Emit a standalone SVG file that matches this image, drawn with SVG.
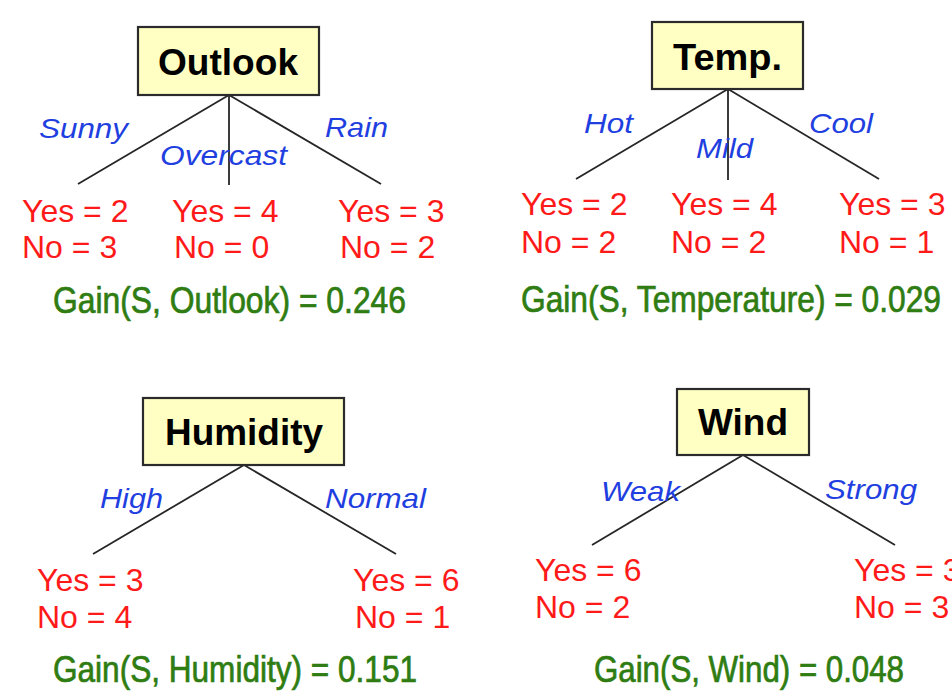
<svg xmlns="http://www.w3.org/2000/svg" width="952" height="698" viewBox="0 0 952 698">
<style>
.box{fill:#ffffc4;stroke:#2b2b2b;stroke-width:2.2}
.title{font-family:"Liberation Sans",Arial,sans-serif;font-weight:bold;font-size:36px;fill:#000}
.lbl{font-family:"Liberation Sans",Arial,sans-serif;font-style:italic;font-size:28px;fill:#1f3fe0}
.cnt{font-family:"Liberation Sans",Arial,sans-serif;font-size:32px;fill:#ff1a1a}
.gain{font-family:"Liberation Sans",Arial,sans-serif;font-size:36px;fill:#2f7d12;stroke:#2f7d12;stroke-width:0.7}
.edge{stroke:#262626;stroke-width:1.8;fill:none}
</style>
<rect width="952" height="698" fill="#fff"/>
<g id="connectors">
<line class="edge" x1="229" y1="95" x2="78" y2="184"/>
<line class="edge" x1="229" y1="95" x2="229" y2="185"/>
<line class="edge" x1="229" y1="95" x2="381" y2="184"/>
<line class="edge" x1="728" y1="89" x2="576" y2="179"/>
<line class="edge" x1="728" y1="89" x2="728" y2="180"/>
<line class="edge" x1="728" y1="89" x2="879" y2="179"/>
<line class="edge" x1="244" y1="465" x2="93" y2="554"/>
<line class="edge" x1="244" y1="465" x2="396" y2="554"/>
<line class="edge" x1="743" y1="455" x2="592" y2="545"/>
<line class="edge" x1="743" y1="455" x2="895" y2="545"/>
</g>
<g id="outlook">
<rect class="box" x="138" y="27" width="181" height="68"/>
<text class="title" x="158" y="75" textLength="140" lengthAdjust="spacingAndGlyphs">Outlook</text>
<text class="lbl" x="39" y="138" textLength="89" lengthAdjust="spacingAndGlyphs">Sunny</text>
<text class="lbl" x="160" y="165" textLength="127" lengthAdjust="spacingAndGlyphs">Overcast</text>
<text class="lbl" x="325" y="137" textLength="63" lengthAdjust="spacingAndGlyphs">Rain</text>
<text class="cnt" x="22" y="222">Yes = 2</text>
<text class="cnt" x="22" y="258">No = 3</text>
<text class="cnt" x="172" y="222">Yes = 4</text>
<text class="cnt" x="174" y="258">No = 0</text>
<text class="cnt" x="338" y="222">Yes = 3</text>
<text class="cnt" x="340" y="258">No = 2</text>
<text class="gain" x="53" y="313" textLength="353" lengthAdjust="spacingAndGlyphs">Gain(S, Outlook) = 0.246</text>
</g>
<g id="temp">
<rect class="box" x="652" y="22" width="151" height="67"/>
<text class="title" x="673" y="70" textLength="109" lengthAdjust="spacingAndGlyphs">Temp.</text>
<text class="lbl" x="584" y="133" textLength="49" lengthAdjust="spacingAndGlyphs">Hot</text>
<text class="lbl" x="696" y="158" textLength="57" lengthAdjust="spacingAndGlyphs">Mild</text>
<text class="lbl" x="809" y="133" textLength="64" lengthAdjust="spacingAndGlyphs">Cool</text>
<text class="cnt" x="521" y="215">Yes = 2</text>
<text class="cnt" x="521" y="253">No = 2</text>
<text class="cnt" x="671" y="215">Yes = 4</text>
<text class="cnt" x="671" y="253">No = 2</text>
<text class="cnt" x="839" y="215">Yes = 3</text>
<text class="cnt" x="839" y="253">No = 1</text>
<text class="gain" x="521" y="312" textLength="420" lengthAdjust="spacingAndGlyphs">Gain(S, Temperature) = 0.029</text>
</g>
<g id="humidity">
<rect class="box" x="143" y="398" width="201" height="67"/>
<text class="title" x="165" y="445" textLength="158" lengthAdjust="spacingAndGlyphs">Humidity</text>
<text class="lbl" x="100" y="508" textLength="63" lengthAdjust="spacingAndGlyphs">High</text>
<text class="lbl" x="325" y="508" textLength="101" lengthAdjust="spacingAndGlyphs">Normal</text>
<text class="cnt" x="37" y="591">Yes = 3</text>
<text class="cnt" x="37" y="628">No = 4</text>
<text class="cnt" x="353" y="591">Yes = 6</text>
<text class="cnt" x="355" y="628">No = 1</text>
<text class="gain" x="53" y="682" textLength="364" lengthAdjust="spacingAndGlyphs">Gain(S, Humidity) = 0.151</text>
</g>
<g id="wind">
<rect class="box" x="677" y="389" width="132" height="66"/>
<text class="title" x="698" y="435" textLength="90" lengthAdjust="spacingAndGlyphs">Wind</text>
<text class="lbl" x="601" y="501" textLength="79" lengthAdjust="spacingAndGlyphs">Weak</text>
<text class="lbl" x="825" y="499" textLength="92" lengthAdjust="spacingAndGlyphs">Strong</text>
<text class="cnt" x="535" y="581">Yes = 6</text>
<text class="cnt" x="535" y="618">No = 2</text>
<text class="cnt" x="854" y="581">Yes = 3</text>
<text class="cnt" x="854" y="618">No = 3</text>
<text class="gain" x="594" y="682" textLength="310" lengthAdjust="spacingAndGlyphs">Gain(S, Wind) = 0.048</text>
</g>
</svg>
